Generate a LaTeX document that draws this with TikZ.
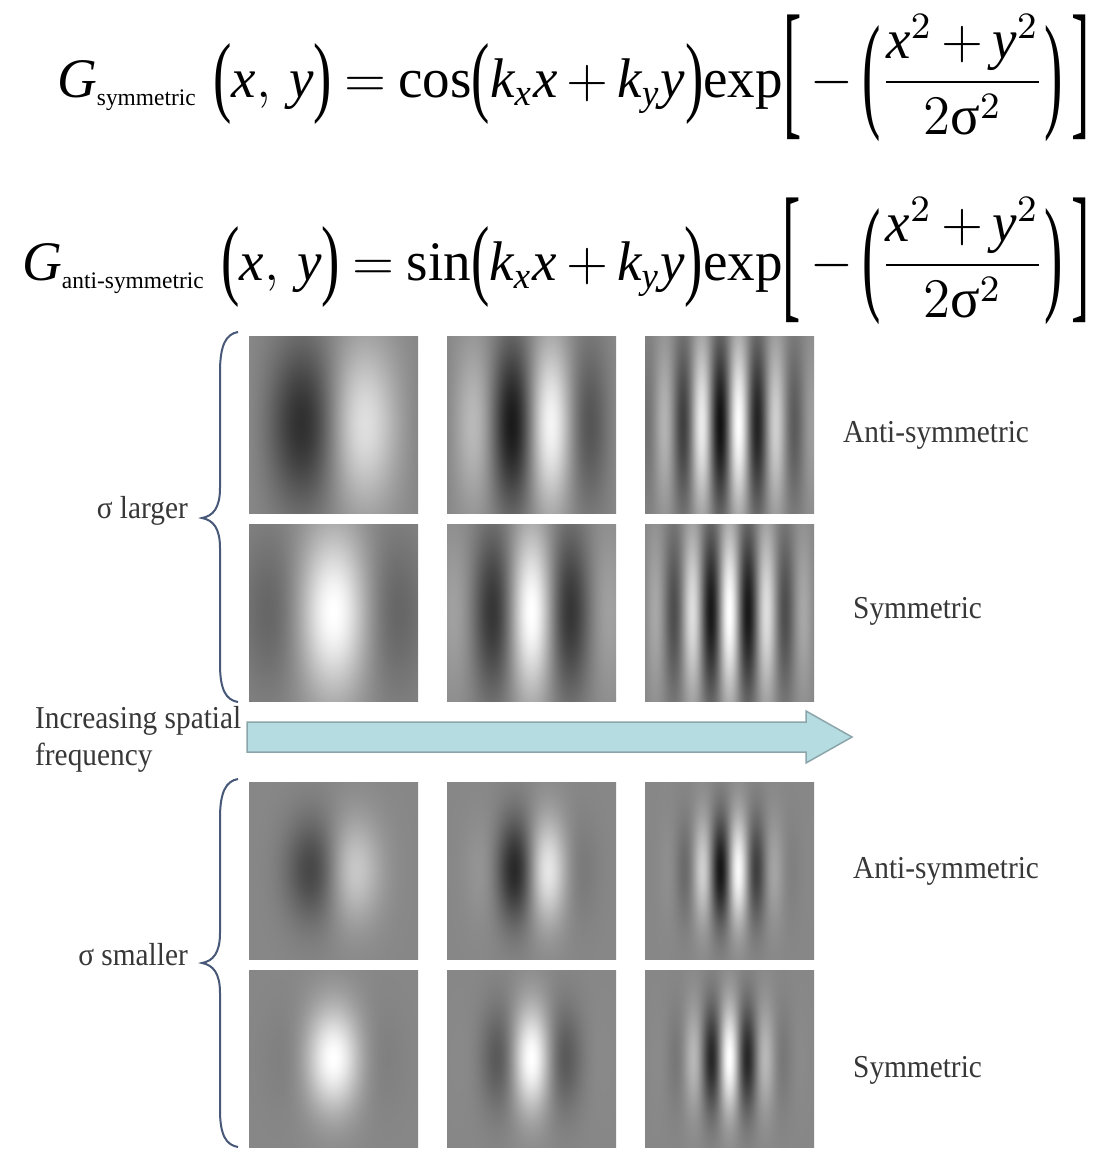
\documentclass[tikz,border=0pt]{standalone}
\usepackage{amsmath}
\usepackage{graphicx}
\usepackage{fontspec}
\setmainfont{Liberation Serif}
\definecolor{arrowfill}{RGB}{181,221,225}
\definecolor{arrowline}{RGB}{140,165,170}
\definecolor{bracecol}{RGB}{72,88,120}
\definecolor{labelcol}{RGB}{55,55,55}
% Gabor patch as a functional shading: #1 name, #2 cos/sin, #3 360*f, #4 1/(2sx^2), #5 1/(2sy^2)
\newcommand\gaborshade[5]{%
 \pgfdeclarefunctionalshading{#1}{\pgfpoint{0bp}{0bp}}{\pgfpoint{170bp}{178bp}}{}{%
 89 sub 178 div dup mul #5 mul exch 85 sub 170 div dup #3 mul #2 exch dup mul #4 mul 3 -1 roll add neg 2.71828 exch exp mul 0.47 mul 0.53 add dup dup}}
\gaborshade{gLA1}{sin}{360}{6.86}{4.59}
\gaborshade{gLA2}{sin}{720}{6.86}{4.59}
\gaborshade{gLA3}{sin}{1620}{6.86}{4.59}
\gaborshade{gLS1}{cos}{360}{6.86}{4.59}
\gaborshade{gLS2}{cos}{720}{6.86}{4.59}
\gaborshade{gLS3}{cos}{1620}{6.86}{4.59}
\gaborshade{gSA1}{sin}{360}{19.5}{11.3}
\gaborshade{gSA2}{sin}{720}{19.5}{11.3}
\gaborshade{gSA3}{sin}{1620}{19.5}{11.3}
\gaborshade{gSS1}{cos}{360}{19.5}{11.3}
\gaborshade{gSS2}{cos}{720}{19.5}{11.3}
\gaborshade{gSS3}{cos}{1620}{19.5}{11.3}
\newcommand\vv[1]{\text{\itshape #1}}
\newcommand\subt[1]{\text{\fontsize{5.1}{6}\selectfont #1}}
% text delimiter stretched vertically: #1 factor, #2 lowering, #3 glyph
\newcommand\dlm[3]{\raisebox{#2}{\scalebox{1}[#1]{#3}}}
\newcommand\po{\mathopen{\dlm{1.6}{-1.8pt}{(}}}
\newcommand\pc{\mathclose{\dlm{1.6}{-1.8pt}{)}}}
\newcommand\eqtail{\po\vv{k}_{\vv{x}}\vv{x}\mskip3mu{+}\mskip3mu\vv{k}_{\vv{y}}\vv{y}\pc\text{exp}\raisebox{0.2pt}{$\dlm{2.7}{-5.1pt}{[}\mskip3mu{-}\mskip3mu\dlm{2.3}{-3.9pt}{(}\dfrac{\vv{x}^2\mskip3mu{+}\mskip3mu\vv{y}^2}{2\text{σ}^2}\dlm{2.3}{-3.9pt}{)}\mskip3mu\dlm{2.7}{-5.1pt}{]}$}}
\begin{document}
\begin{tikzpicture}[x=1bp,y=-1bp,
  lbl/.style={font=\fontsize{32}{36}\selectfont, text=labelcol, inner sep=0},
  patch/.style={inner sep=0, outer sep=0, anchor=north west},
  bracestyle/.style={draw=bracecol, line width=2bp},
  eq/.style={font=\fontsize{12}{14}\selectfont, inner sep=0, anchor=base west}]
\useasboundingbox[fill=white] (0,0) rectangle (1101,1149);
% equations
\node[eq] (eqS) at (57,97) {\resizebox{1033bp}{4.67\height}{$\vv{G}_{\subt{symmetric}}\;\po\vv{x},\,\vv{y}\pc\mskip4mu{=}\mskip4mu\text{cos}\eqtail$}};
\node[eq] (eqA) at (22,280) {\resizebox{1068bp}{4.67\height}{$\vv{G}_{\subt{anti-symmetric}}\;\po\vv{x},\,\vv{y}\pc\mskip4mu{=}\mskip4mu\text{sin}\eqtail$}};
% patches, sigma larger
\node[patch] (LA1) at (248,335) {\pgfuseshading{gLA1}};
\node[patch] (LA2) at (446,335) {\pgfuseshading{gLA2}};
\node[patch] (LA3) at (644,335) {\pgfuseshading{gLA3}};
\node[patch] (LS1) at (248,523) {\pgfuseshading{gLS1}};
\node[patch] (LS2) at (446,523) {\pgfuseshading{gLS2}};
\node[patch] (LS3) at (644,523) {\pgfuseshading{gLS3}};
% patches, sigma smaller
\node[patch] (SA1) at (248,781) {\pgfuseshading{gSA1}};
\node[patch] (SA2) at (446,781) {\pgfuseshading{gSA2}};
\node[patch] (SA3) at (644,781) {\pgfuseshading{gSA3}};
\node[patch] (SS1) at (248,969) {\pgfuseshading{gSS1}};
\node[patch] (SS2) at (446,969) {\pgfuseshading{gSS2}};
\node[patch] (SS3) at (644,969) {\pgfuseshading{gSS3}};
% right labels
\node[lbl, anchor=base west] (tA1) at (843,442) {\scalebox{0.92}[1]{Anti-symmetric}};
\node[lbl, anchor=base west] (tS1) at (853,618) {\scalebox{0.92}[1]{Symmetric}};
\node[lbl, anchor=base west] (tA2) at (853,878) {\scalebox{0.92}[1]{Anti-symmetric}};
\node[lbl, anchor=base west] (tS2) at (853,1077) {\scalebox{0.92}[1]{Symmetric}};
% left labels
\node[lbl, anchor=base east] (sl) at (188,518) {\scalebox{0.92}[1]{σ larger}};
\node[lbl, anchor=base east] (ss) at (188,965) {\scalebox{0.92}[1]{σ smaller}};
\node[lbl, anchor=base west] (inc1) at (35,728) {\scalebox{0.92}[1]{Increasing spatial}};
\node[lbl, anchor=base west] (inc2) at (35,765) {\scalebox{0.92}[1]{frequency}};
% braces
\coordinate (b1t) at (238,332);
\coordinate (b1m) at (202,518);
\coordinate (b1b) at (238,702);
\draw[bracestyle] (b1t) .. controls (226,334) and (220,345) .. (220,372) -- (220,488)
  .. controls (220,508) and (213,516) .. (b1m) .. controls (213,520) and (220,528) .. (220,548)
  -- (220,664) .. controls (220,690) and (226,700) .. (b1b);
\coordinate (b2t) at (238,779);
\coordinate (b2m) at (202,963);
\coordinate (b2b) at (238,1147);
\draw[bracestyle] (b2t) .. controls (226,781) and (220,792) .. (220,818) -- (220,933)
  .. controls (220,953) and (213,961) .. (b2m) .. controls (213,965) and (220,973) .. (220,993)
  -- (220,1110) .. controls (220,1135) and (226,1145) .. (b2b);
% arrow
\coordinate (arT) at (247,737);
\coordinate (arH) at (852,737);
\path[fill=arrowfill, draw=arrowline, line width=1.5bp]
  (247,722) -- (806,722) -- (806,711) -- (arH) -- (806,763) -- (806,752) -- (247,752) -- cycle;
\end{tikzpicture}
\end{document}
